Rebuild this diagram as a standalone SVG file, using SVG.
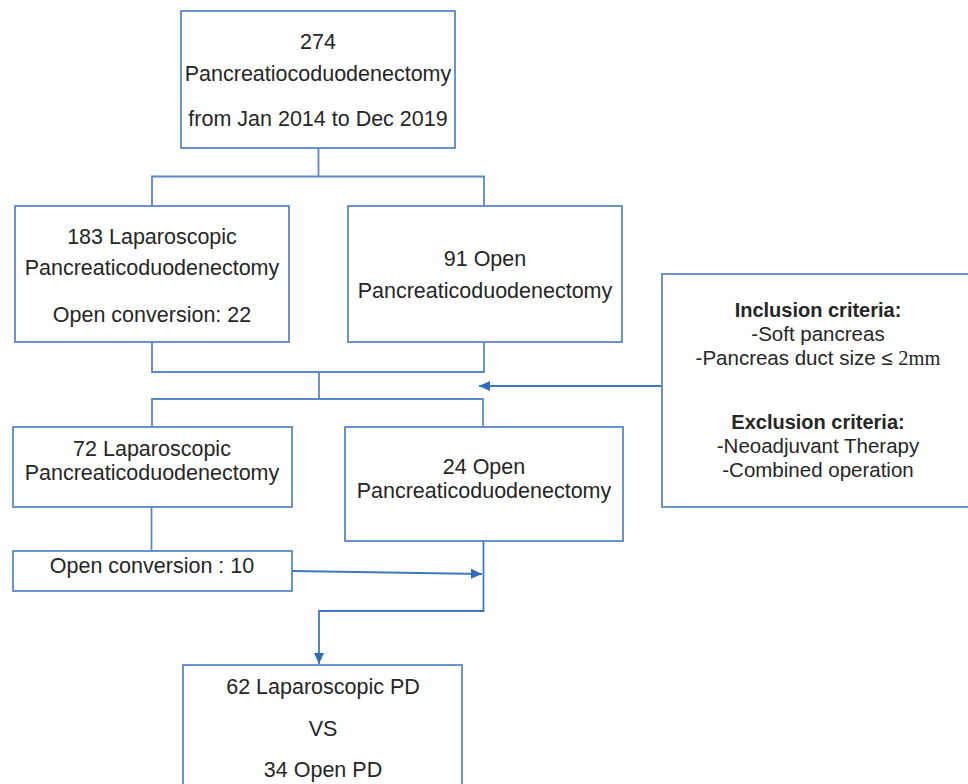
<svg xmlns="http://www.w3.org/2000/svg" width="968" height="784" viewBox="0 0 968 784">
<defs>
<style>
.box{fill:#ffffff;stroke:#5b88c6;stroke-width:1.8}
.t{font-family:"Liberation Sans","Noto Sans",sans-serif;font-size:21.5px;fill:#262626;text-anchor:middle}
.c{font-family:"Liberation Sans","Noto Sans",sans-serif;font-size:20.5px;fill:#262626;text-anchor:middle}
.b{font-weight:bold;font-size:20px}
.ser{font-family:"Liberation Serif","DejaVu Serif",serif}
.ln{fill:none;stroke:#5b88c6;stroke-width:1.8}
.ar{fill:none;stroke:#3f78bd;stroke-width:1.8}
</style>
<marker id="ah" markerUnits="userSpaceOnUse" markerWidth="12" markerHeight="12" refX="11" refY="6" orient="auto">
<path d="M0,1 L11,6 L0,11 Z" fill="#2e6db6"/>
</marker>
</defs>
<rect width="968" height="784" fill="#ffffff"/>
<g id="connectors">
<path class="ln" d="M318.5 148 V176.5 M152 206 V176.5 H484 V206"/>
<path class="ln" d="M152 342 V372 H484 V342 M319 372 V399 M152 427 V399 H483 V427"/>
<path class="ln" d="M151.5 507 V551"/>
<path class="ar" d="M292 571 L482 574" marker-end="url(#ah)"/>
<path class="ar" d="M483.5 541 V611 H319 V664" marker-end="url(#ah)"/>
<path class="ar" d="M662 386 H479" marker-end="url(#ah)"/>
</g>
<g id="n-total">
<rect class="box" x="181" y="11" width="274" height="137"/>
<text class="t" x="318" y="49">274</text>
<text class="t" x="318" y="81">Pancreatiocoduodenectomy</text>
<text class="t" x="318" y="126">from Jan 2014 to Dec 2019</text>
</g>
<g id="n-lap183">
<rect class="box" x="15" y="206" width="274" height="136"/>
<text class="t" x="152" y="244">183 Laparoscopic</text>
<text class="t" x="152" y="275">Pancreaticoduodenectomy</text>
<text class="t" x="152" y="322">Open conversion: 22</text>
</g>
<g id="n-open91">
<rect class="box" x="348" y="206" width="274" height="136"/>
<text class="t" x="485" y="266">91 Open</text>
<text class="t" x="485" y="298">Pancreaticoduodenectomy</text>
</g>
<g id="n-lap72">
<rect class="box" x="13" y="427" width="279" height="80"/>
<text class="t" x="152" y="456">72 Laparoscopic</text>
<text class="t" x="152" y="480">Pancreaticoduodenectomy</text>
</g>
<g id="n-open24">
<rect class="box" x="345" y="427" width="278" height="114"/>
<text class="t" x="484" y="474">24 Open</text>
<text class="t" x="484" y="498">Pancreaticoduodenectomy</text>
</g>
<g id="n-conv10">
<rect class="box" x="13" y="551" width="279" height="40"/>
<text class="t" x="152" y="573">Open conversion : 10</text>
</g>
<g id="n-final">
<rect class="box" x="183" y="665" width="279" height="140"/>
<text class="t" x="323" y="694">62 Laparoscopic PD</text>
<text class="t" x="323" y="736">VS</text>
<text class="t" x="323" y="777">34 Open PD</text>
</g>
<g id="n-criteria">
<rect class="box" x="662" y="274" width="330" height="233"/>
<text class="c b" x="818" y="317">Inclusion criteria:</text>
<text class="c" x="818" y="341">-Soft pancreas</text>
<text class="c" x="818" y="365">-Pancreas duct size ≤ <tspan class="ser">2mm</tspan></text>
<text class="c b" x="818" y="429">Exclusion criteria:</text>
<text class="c" x="818" y="453">-Neoadjuvant Therapy</text>
<text class="c" x="818" y="477">-Combined operation</text>
</g>
</svg>
